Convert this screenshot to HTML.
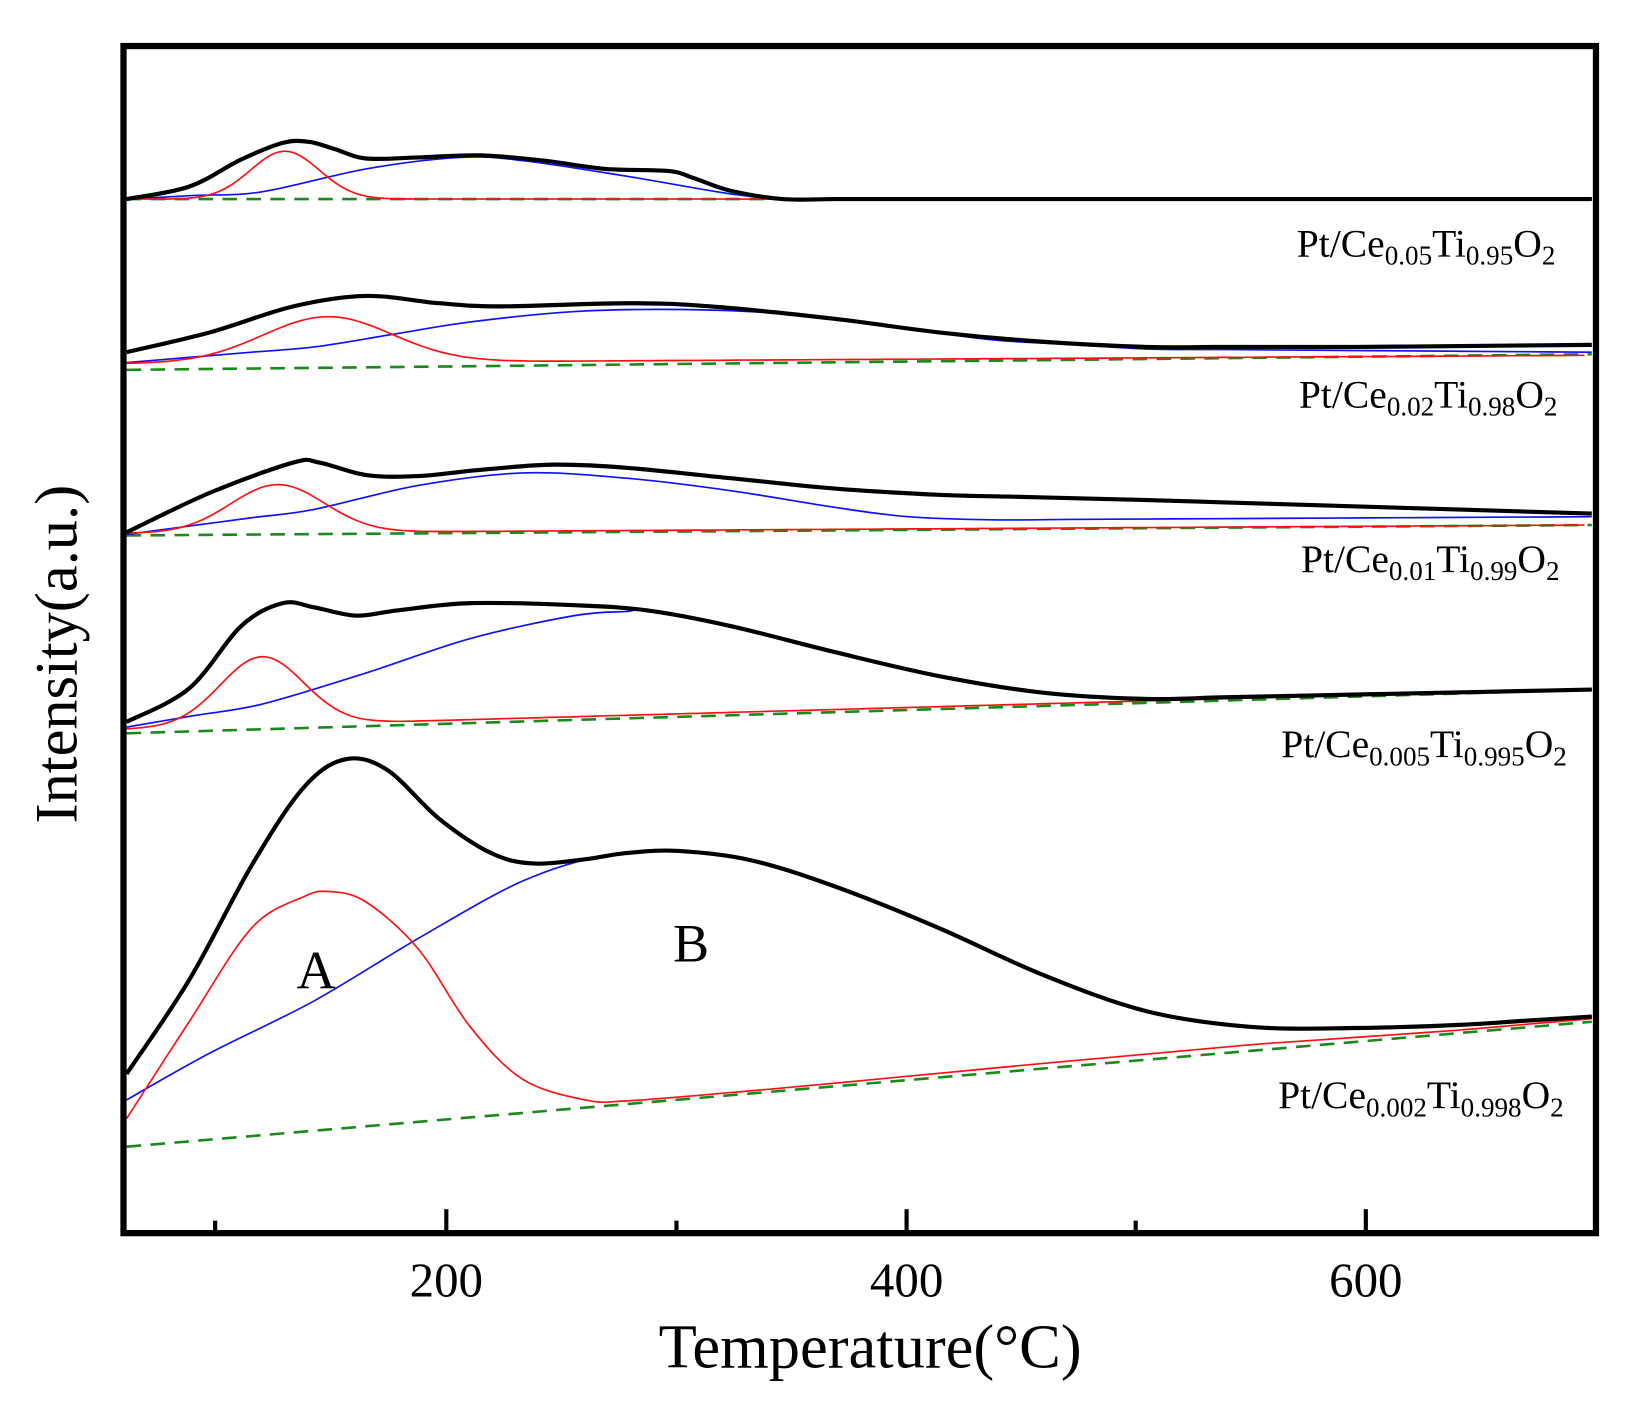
<!DOCTYPE html>
<html><head><meta charset="utf-8"><style>
html,body{margin:0;padding:0;background:#fff;}
svg{display:block;}
text{font-family:"Liberation Serif",serif;fill:#000;}
</style></head><body>
<svg id="s" width="1637" height="1411" viewBox="-1.6 -1.2 1572 1355" preserveAspectRatio="none" xmlns="http://www.w3.org/2000/svg">
<rect x="-10" y="-10" width="1600" height="1380" fill="#fff"/>
<g id="curves" fill="none"></g>
<rect x="117" y="43" width="1414" height="1140" fill="none" stroke="#000" stroke-width="6"/>
<g stroke="#000" stroke-width="4">
<line x1="205" y1="1183" x2="205" y2="1171"/><line x1="427" y1="1183" x2="427" y2="1160"/>
<line x1="648" y1="1183" x2="648" y2="1171"/><line x1="869" y1="1183" x2="869" y2="1160"/>
<line x1="1089" y1="1183" x2="1089" y2="1171"/><line x1="1310" y1="1183" x2="1310" y2="1160"/>
</g>
<g font-size="47" text-anchor="middle">
<text x="427" y="1244">200</text><text x="869" y="1244">400</text><text x="1310" y="1244">600</text>
</g>
<text x="834" y="1312" font-size="60" text-anchor="middle">Temperature(°C)</text>
<text transform="translate(72,627) rotate(-90)" font-size="58" text-anchor="middle">Intensity(a.u.)</text>
<text x="302" y="948" font-size="52" text-anchor="middle">A</text>
<text x="662" y="922" font-size="52" text-anchor="middle">B</text>
<g font-size="38" text-anchor="end">
<text x="1492" y="245">Pt/Ce<tspan font-size="26" dy="8">0.05</tspan><tspan dy="-8">Ti</tspan><tspan font-size="26" dy="8">0.95</tspan><tspan dy="-8">O</tspan><tspan font-size="26" dy="8">2</tspan></text>
<text x="1494" y="390">Pt/Ce<tspan font-size="26" dy="8">0.02</tspan><tspan dy="-8">Ti</tspan><tspan font-size="26" dy="8">0.98</tspan><tspan dy="-8">O</tspan><tspan font-size="26" dy="8">2</tspan></text>
<text x="1496" y="548">Pt/Ce<tspan font-size="26" dy="8">0.01</tspan><tspan dy="-8">Ti</tspan><tspan font-size="26" dy="8">0.99</tspan><tspan dy="-8">O</tspan><tspan font-size="26" dy="8">2</tspan></text>
<text x="1503" y="726">Pt/Ce<tspan font-size="26" dy="8">0.005</tspan><tspan dy="-8">Ti</tspan><tspan font-size="26" dy="8">0.995</tspan><tspan dy="-8">O</tspan><tspan font-size="26" dy="8">2</tspan></text>
<text x="1500" y="1063">Pt/Ce<tspan font-size="26" dy="8">0.002</tspan><tspan dy="-8">Ti</tspan><tspan font-size="26" dy="8">0.998</tspan><tspan dy="-8">O</tspan><tspan font-size="26" dy="8">2</tspan></text>
</g>
</svg>
<script>
function dens(p){var o=[p[0]];for(var i=1;i<p.length;i++){var a=p[i-1],b=p[i],dx=b[0]-a[0];if(dx>120){var n=Math.ceil(dx/80);for(var k=1;k<n;k++){o.push([a[0]+dx*k/n,a[1]+(b[1]-a[1])*k/n]);}}o.push(b);}return o;}
function path(p){p=dens(p);var d="M"+p[0][0]+","+p[0][1];for(var i=0;i<p.length-1;i++){var p0=p[i-1]||p[i],p1=p[i],p2=p[i+1],p3=p[i+2]||p2;
var c1x=p1[0]+(p2[0]-p0[0])/6,c1y=p1[1]+(p2[1]-p0[1])/6,c2x=p2[0]-(p3[0]-p1[0])/6,c2y=p2[1]-(p3[1]-p1[1])/6;
d+=" C"+c1x.toFixed(1)+","+c1y.toFixed(1)+" "+c2x.toFixed(1)+","+c2y.toFixed(1)+" "+p2[0]+","+p2[1];}return d;}
function gauss(x0,y0,amp,sig,b0,b1){var p=[];for(var x=120;x<=1527;x+=10){var b=b0+(b1-b0)*(x-120)/1407;p.push([x,+(b-amp*Math.exp(-Math.pow((x-x0)/sig,2)/2)).toFixed(1)]);}return p;}
var S=[
{g:[190,190],k:[[120,190],[180,178],[230,152],[270,136],[295,135],[320,142],[350,151],[400,150],[460,148],[520,153],[580,161],[640,163],[665,170],[700,182],[750,190],[800,190],[1527,190]],
r:gauss(272,0,46,33,190,190),b:[[120,190],[250,183],[350,161],[440,150],[500,153],[600,168],[700,185],[760,190],[820,190],[1527,190]]},
{g:[354,339],k:[[120,337],[200,318],[280,293],[350,283],[420,290],[480,293],[600,290],[680,293],[800,305],[900,318],[1000,327],[1100,332],[1300,332],[1527,330]],
r:gauss(313,0,44,62,348,340),b:[[120,347],[300,332],[450,308],[550,298],[650,296],[750,300],[850,312],[950,325],[1100,334],[1527,337]]},
{g:[513,503],k:[[120,510],[200,472],[280,443],[305,443],[350,455],[400,456],[460,450],[530,445],[600,448],[700,458],[800,468],[900,474],[1100,479],[1527,492]],
r:gauss(265,0,46,45,511,503),b:[[120,512],[300,488],[400,465],[500,453],[600,458],[700,470],[800,486],[870,495],[950,498],[1527,495]]},
{g:[703,661],k:[[120,692],[180,660],[230,600],[270,578],[300,582],[340,590],[380,585],[450,578],[550,580],[620,585],[700,600],[800,625],[900,648],[1000,664],[1100,670],[1527,661]],
r:gauss(250,0,66,40,699,660),b:[[120,697],[250,675],[350,645],[450,612],[550,590],[600,586],[620,585],[700,600],[800,625],[900,648],[1000,664],[1100,670],[1527,661]]},
{g:[1100,980],k:[[120,1030],[180,940],[240,830],[290,755],[330,728],[370,738],[420,785],[470,818],[510,828],[560,824],[600,818],[650,816],[720,825],[800,850],[900,890],[1000,935],[1100,970],[1200,985],[1300,986],[1400,983],[1527,975]],
r:[[120,1073],[180,980],[240,890],[290,860],[315,855],[350,865],[400,910],[450,985],[500,1035],[560,1055],[600,1056],[700,1048],[800,1039],[1000,1020],[1200,1002],[1400,988],[1527,977]],
b:[[120,1055],[200,1010],[300,960],[400,900],[500,845],[580,820],[650,816],[720,825],[800,850],[900,890],[1000,935],[1100,970],[1200,985],[1300,986],[1400,983],[1527,975]]}];
var g=document.getElementById("curves"),h="";
S.forEach(function(s){
h+='<line x1="120" y1="'+s.g[0]+'" x2="1527" y2="'+s.g[1]+'" stroke="#1a8a1a" stroke-width="2.5" stroke-dasharray="14,9"/>';
h+='<path d="'+path(s.b)+'" stroke="#1010ff" stroke-width="1.6"/>';
h+='<path d="'+path(s.r)+'" stroke="#ff1010" stroke-width="1.6"/>';
h+='<path d="'+path(s.k)+'" stroke="#000" stroke-width="4"/>';});
g.innerHTML=h;
</script>
</body></html>
